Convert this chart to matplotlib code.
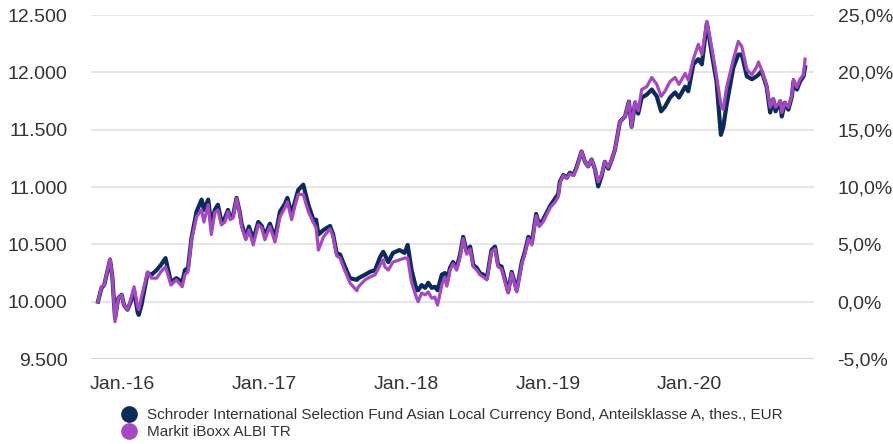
import matplotlib
matplotlib.use("Agg")
import matplotlib.pyplot as plt
import matplotlib.dates as mdates
from matplotlib.lines import Line2D
import pandas as pd

plt.rcParams['font.family'] = ['Liberation Sans', 'DejaVu Sans']

dates = [
    "2015-10-30", "2015-11-08", "2015-11-15", "2015-11-30", "2015-12-06", "2015-12-13", "2015-12-21", "2015-12-30",
    "2016-01-05", "2016-01-14", "2016-01-22", "2016-01-31", "2016-02-09", "2016-02-12", "2016-02-19", "2016-03-06",
    "2016-03-16", "2016-03-29", "2016-04-09", "2016-04-21", "2016-05-05", "2016-05-19", "2016-06-03", "2016-06-10",
    "2016-06-18", "2016-06-27", "2016-07-10", "2016-07-23", "2016-07-29", "2016-08-09", "2016-08-17", "2016-08-26",
    "2016-09-03", "2016-09-12", "2016-09-21", "2016-09-29", "2016-10-05", "2016-10-12", "2016-10-21", "2016-10-29",
    "2016-11-03", "2016-11-14", "2016-11-22", "2016-12-03", "2016-12-16", "2016-12-25", "2017-01-02", "2017-01-15",
    "2017-01-28", "2017-02-10", "2017-02-23", "2017-03-01", "2017-03-12", "2017-03-20", "2017-03-29", "2017-04-11",
    "2017-04-24", "2017-05-07", "2017-05-14", "2017-05-20", "2017-06-02", "2017-06-19", "2017-06-27", "2017-07-06",
    "2017-07-15", "2017-07-23", "2017-08-09", "2017-08-27", "2017-08-31", "2017-09-17", "2017-09-30", "2017-10-13",
    "2017-10-26", "2017-11-03", "2017-11-07", "2017-11-16", "2017-11-28", "2017-12-15", "2017-12-28", "2018-01-05",
    "2018-01-15", "2018-01-28", "2018-02-01", "2018-02-10", "2018-02-19", "2018-02-27", "2018-03-08", "2018-03-16",
    "2018-03-23", "2018-04-03", "2018-04-11", "2018-04-16", "2018-04-24", "2018-05-02", "2018-05-11", "2018-05-20",
    "2018-05-28", "2018-06-06", "2018-06-15", "2018-06-23", "2018-07-02", "2018-07-10", "2018-07-19", "2018-07-28",
    "2018-08-09", "2018-08-18", "2018-08-26", "2018-09-04", "2018-09-13", "2018-09-21", "2018-09-30", "2018-10-13",
    "2018-10-26", "2018-11-03", "2018-11-12", "2018-11-21", "2018-12-02", "2018-12-10", "2018-12-20", "2018-12-29",
    "2019-01-07", "2019-01-20", "2019-01-28", "2019-02-01", "2019-02-10", "2019-02-19", "2019-02-27", "2019-03-08",
    "2019-03-16", "2019-03-29", "2019-04-07", "2019-04-15", "2019-04-24", "2019-05-03", "2019-05-11", "2019-05-20",
    "2019-05-28", "2019-06-06", "2019-06-15", "2019-06-23", "2019-07-06", "2019-07-19", "2019-07-29", "2019-08-05",
    "2019-08-14", "2019-08-22", "2019-08-31", "2019-09-13", "2019-09-26", "2019-10-09", "2019-10-20", "2019-10-30",
    "2019-11-12", "2019-11-25", "2019-12-05", "2019-12-21", "2019-12-29", "2020-01-11", "2020-01-24", "2020-02-02",
    "2020-02-15", "2020-02-27", "2020-03-11", "2020-03-22", "2020-03-28", "2020-04-06", "2020-04-23", "2020-05-06",
    "2020-05-15", "2020-05-28", "2020-06-10", "2020-06-22", "2020-06-27", "2020-07-05", "2020-07-18", "2020-07-27",
    "2020-08-04", "2020-08-10", "2020-08-22", "2020-08-26", "2020-09-03", "2020-09-12", "2020-09-21", "2020-09-25",
    "2020-10-04", "2020-10-12", "2020-10-21", "2020-10-25",
]

fund_values = [
    10000, 10120, 10145, 10365, 10215, 9855, 10030, 10060,
    9970, 9930, 9995, 10100, 9910, 9885, 9970, 10250,
    10235, 10275, 10320, 10380, 10170, 10205, 10170, 10275,
    10295, 10555, 10785, 10890, 10800, 10890, 10670, 10800,
    10845, 10695, 10730, 10800, 10730, 10750, 10905, 10785,
    10680, 10555, 10655, 10540, 10695, 10660, 10575, 10680,
    10555, 10785, 10855, 10905, 10760, 10865, 10975, 11020,
    10845, 10715, 10715, 10585, 10625, 10660, 10585, 10425,
    10410, 10340, 10205, 10190, 10205, 10235, 10260, 10275,
    10390, 10435, 10410, 10345, 10425, 10450, 10425, 10495,
    10275, 10100, 10100, 10145, 10120, 10165, 10120, 10130,
    10100, 10235, 10250, 10165, 10295, 10345, 10295, 10410,
    10565, 10435, 10480, 10320, 10295, 10250, 10235, 10205,
    10450, 10480, 10320, 10305, 10190, 10085, 10260, 10100,
    10345, 10435, 10565, 10515, 10765, 10670, 10715, 10775,
    10835, 10900, 10940, 11045, 11105, 11080, 11125, 11105,
    11170, 11310, 11220, 11180, 11240, 11150, 11005, 11100,
    11220, 11160, 11240, 11325, 11570, 11615, 11745, 11525,
    11735, 11640, 11780, 11805, 11850, 11790, 11660, 11700,
    11780, 11825, 11780, 11875, 11835, 12070, 12115, 12070,
    12430, 12175, 11915, 11455, 11520, 11720, 12040, 12155,
    12155, 11965, 11940, 11965, 11980, 12010, 11875, 11650,
    11765, 11660, 11745, 11615, 11735, 11675, 11790, 11920,
    11850, 11920, 11965, 12045,
]

index_values = [
    10000, 10130, 10145, 10375, 10215, 9825, 10030, 10060,
    9970, 9930, 10015, 10130, 9955, 9930, 10040, 10260,
    10205, 10205, 10260, 10305, 10145, 10190, 10130, 10235,
    10260, 10540, 10740, 10800, 10695, 10845, 10585, 10775,
    10800, 10670, 10695, 10785, 10715, 10730, 10900, 10775,
    10655, 10540, 10625, 10495, 10670, 10645, 10540, 10655,
    10520, 10740, 10820, 10870, 10715, 10830, 10935, 10935,
    10785, 10690, 10645, 10450, 10565, 10635, 10565, 10400,
    10380, 10305, 10165, 10095, 10130, 10190, 10215, 10235,
    10320, 10365, 10305, 10275, 10345, 10365, 10380, 10380,
    10170, 10030, 10000, 10075, 10060, 10085, 10030, 10040,
    9970, 10145, 10215, 10135, 10275, 10330, 10275, 10390,
    10550, 10415, 10460, 10305, 10275, 10235, 10215, 10190,
    10435, 10460, 10305, 10285, 10170, 10075, 10250, 10085,
    10330, 10415, 10550, 10495, 10750, 10655, 10695, 10760,
    10820, 10870, 10915, 11030, 11100, 11075, 11115, 11100,
    11160, 11310, 11220, 11180, 11240, 11150, 11045, 11110,
    11220, 11170, 11240, 11325, 11570, 11615, 11745, 11525,
    11745, 11665, 11850, 11875, 11955, 11895, 11790, 11835,
    11920, 11955, 11895, 11990, 11930, 12115, 12245, 12155,
    12445, 12225, 11965, 11720, 11675, 11870, 12110, 12270,
    12225, 12025, 11980, 12045, 12090, 12020, 11885, 11695,
    11765, 11695, 11755, 11650, 11735, 11695, 11800, 11940,
    11870, 11940, 11980, 12115,
]

series_labels = [
    "Schroder International Selection Fund Asian Local Currency Bond, Anteilsklasse A, thes., EUR",
    "Markit iBoxx ALBI TR",
]
left_ticks = [9500, 10000, 10500, 11000, 11500, 12000, 12500]
left_tick_labels = ["9.500", "10.000", "10.500", "11.000", "11.500", "12.000", "12.500"]
right_ticks = [-5, 0, 5, 10, 15, 20, 25]
right_tick_labels = ["-5,0%", "0,0%", "5,0%", "10,0%", "15,0%", "20,0%", "25,0%"]
x_ticks = ["2016-01-01", "2017-01-01", "2018-01-01", "2019-01-01", "2020-01-01"]
x_tick_labels = ["Jan.-16", "Jan.-17", "Jan.-18", "Jan.-19", "Jan.-20"]

NAVY = "#0a2b5c"
PURPLE = "#a648c2"
W, H = 893, 444

x = pd.to_datetime(dates)
fig = plt.figure(figsize=(W / 100, H / 100), dpi=100)
ax = fig.add_axes([91 / W, 1 - 359 / H, (814 - 91) / W, (359 - 15) / H])

ax.plot(x, fund_values, color=NAVY, lw=3.0, solid_joinstyle="round", zorder=3)
ax.plot(x, index_values, color=PURPLE, lw=2.3, solid_joinstyle="round", zorder=4)

ax.set_ylim(9500, 12500)
ax.set_xlim(pd.Timestamp("2015-10-12"), pd.Timestamp("2020-11-17"))
ax.set_yticks(left_ticks)
ax.set_yticklabels(left_tick_labels)
ax.set_xticks(pd.to_datetime(x_ticks))
ax.set_xticklabels(x_tick_labels)

for v in left_ticks:
    ax.axhline(v, color="#d2d2d2" if v == left_ticks[0] else "#e6e6e6", lw=1.5, zorder=1)

for s in ax.spines.values():
    s.set_visible(False)
ax.tick_params(axis="y", length=0, pad=17, labelsize=14, labelcolor="#333333")
ax.tick_params(axis="x", length=0, pad=12, labelsize=14, labelcolor="#333333")

ax2 = ax.twinx()
ax2.set_ylim(-5, 25)
ax2.set_yticks(right_ticks)
ax2.set_yticklabels(right_tick_labels)
for s in ax2.spines.values():
    s.set_visible(False)
ax2.tick_params(axis="y", length=0, pad=17, labelsize=14, labelcolor="#333333")

handles = [
    Line2D([], [], color=NAVY, marker="o", ls="none", markersize=11),
    Line2D([], [], color=PURPLE, marker="o", ls="none", markersize=11),
]
fig.legend(handles, series_labels, loc="upper left",
           bbox_to_anchor=(121 / W, 1 - 408 / H), frameon=False,
           fontsize=11, handlelength=1.0, handletextpad=0.7,
           labelspacing=0.2, borderpad=0, borderaxespad=0, labelcolor="#333333")

fig.savefig("out.png", dpi=100)
